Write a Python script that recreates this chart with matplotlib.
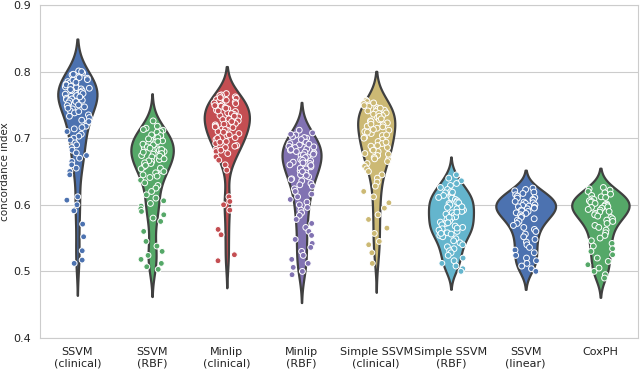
import numpy as np
import pandas as pd
import matplotlib
matplotlib.use("Agg")
import matplotlib.pyplot as plt
import seaborn as sns

labels = ["SSVM\n(clinical)", "SSVM\n(RBF)", "Minlip\n(clinical)", "Minlip\n(RBF)",
          "Simple SSVM\n(clinical)", "Simple SSVM\n(RBF)", "SSVM\n(linear)", "CoxPH"]

ssvm_clinical = [0.801, 0.798, 0.795, 0.792, 0.790, 0.788, 0.785, 0.783, 0.781, 0.779,
                 0.777, 0.776, 0.774, 0.772, 0.770, 0.768, 0.766, 0.765, 0.763, 0.761,
                 0.759, 0.757, 0.755, 0.752, 0.750, 0.747, 0.744, 0.741, 0.738, 0.735,
                 0.731, 0.727, 0.723, 0.718, 0.714, 0.710, 0.706, 0.703, 0.700, 0.697,
                 0.693, 0.690, 0.686, 0.682, 0.678, 0.674, 0.670, 0.665, 0.660, 0.655,
                 0.650, 0.645, 0.612, 0.607, 0.600, 0.591, 0.571, 0.552, 0.531, 0.517, 0.512,
                 0.800, 0.796, 0.791, 0.787, 0.784, 0.780, 0.778, 0.775, 0.773, 0.771,
                 0.769, 0.767, 0.764, 0.762, 0.760, 0.758, 0.756, 0.753, 0.749, 0.745,
                 0.740, 0.733, 0.725, 0.716]
ssvm_rbf = [0.726, 0.718, 0.715, 0.712, 0.710, 0.707, 0.705, 0.702, 0.700, 0.698,
            0.696, 0.694, 0.692, 0.690, 0.688, 0.686, 0.684, 0.682, 0.680, 0.678,
            0.676, 0.674, 0.672, 0.670, 0.668, 0.665, 0.662, 0.660, 0.657, 0.654,
            0.651, 0.648, 0.645, 0.641, 0.637, 0.633, 0.629, 0.625, 0.620, 0.615,
            0.610, 0.606, 0.602, 0.598, 0.594, 0.590, 0.585, 0.580, 0.575, 0.560,
            0.545, 0.538, 0.530, 0.524, 0.518, 0.512, 0.507, 0.503,
            0.713, 0.709, 0.704, 0.701, 0.699, 0.695, 0.691, 0.687, 0.685, 0.683,
            0.679, 0.677, 0.673, 0.669, 0.666, 0.663, 0.659, 0.655, 0.650, 0.643]
minlip_clinical = [0.767, 0.765, 0.762, 0.760, 0.758, 0.756, 0.754, 0.752, 0.750, 0.748,
                   0.746, 0.744, 0.742, 0.740, 0.738, 0.736, 0.734, 0.732, 0.730, 0.728,
                   0.726, 0.724, 0.722, 0.720, 0.718, 0.716, 0.714, 0.712, 0.710, 0.707,
                   0.704, 0.701, 0.698, 0.695, 0.692, 0.689, 0.686, 0.683, 0.680, 0.677,
                   0.672, 0.667, 0.660, 0.652, 0.612, 0.605, 0.600, 0.592, 0.563, 0.555,
                   0.525, 0.516,
                   0.764, 0.761, 0.757, 0.753, 0.749, 0.745, 0.741, 0.737, 0.733, 0.729,
                   0.725, 0.721, 0.717, 0.713, 0.709, 0.705, 0.700, 0.694, 0.688, 0.682]
minlip_rbf = [0.712, 0.708, 0.705, 0.702, 0.700, 0.697, 0.695, 0.692, 0.690, 0.688,
              0.686, 0.684, 0.682, 0.680, 0.678, 0.676, 0.674, 0.672, 0.670, 0.668,
              0.666, 0.664, 0.662, 0.660, 0.657, 0.654, 0.651, 0.648, 0.645, 0.642,
              0.639, 0.636, 0.632, 0.628, 0.624, 0.620, 0.616, 0.612, 0.608, 0.604,
              0.600, 0.596, 0.592, 0.588, 0.584, 0.578, 0.572, 0.566, 0.560, 0.554,
              0.548, 0.542, 0.536, 0.530, 0.524, 0.518, 0.512, 0.506, 0.500, 0.495,
              0.706, 0.701, 0.698, 0.694, 0.691, 0.687, 0.683, 0.679, 0.675, 0.671,
              0.667, 0.663, 0.659, 0.655, 0.650, 0.644, 0.638, 0.630]
simple_clinical = [0.757, 0.755, 0.752, 0.750, 0.748, 0.746, 0.744, 0.742, 0.740, 0.738,
                   0.736, 0.734, 0.731, 0.728, 0.726, 0.723, 0.720, 0.718, 0.715, 0.712,
                   0.710, 0.707, 0.704, 0.701, 0.698, 0.695, 0.692, 0.689, 0.686, 0.683,
                   0.680, 0.677, 0.674, 0.671, 0.668, 0.665, 0.662, 0.658, 0.654, 0.650,
                   0.645, 0.640, 0.634, 0.628, 0.620, 0.612, 0.603, 0.595, 0.585, 0.578,
                   0.565, 0.557, 0.545, 0.540, 0.528, 0.512,
                   0.753, 0.749, 0.745, 0.741, 0.737, 0.733, 0.729, 0.725, 0.721, 0.717,
                   0.713, 0.709, 0.705, 0.700, 0.694, 0.688, 0.682, 0.676, 0.669]
simple_rbf = [0.645, 0.640, 0.636, 0.632, 0.629, 0.626, 0.623, 0.620, 0.618, 0.616,
              0.614, 0.612, 0.610, 0.608, 0.606, 0.604, 0.602, 0.600, 0.598, 0.596,
              0.594, 0.592, 0.590, 0.588, 0.586, 0.584, 0.582, 0.580, 0.578, 0.576,
              0.574, 0.572, 0.570, 0.568, 0.566, 0.564, 0.562, 0.560, 0.558, 0.556,
              0.554, 0.552, 0.549, 0.546, 0.543, 0.540, 0.537, 0.534, 0.531, 0.528,
              0.524, 0.520, 0.516, 0.512, 0.508, 0.504, 0.500,
              0.619, 0.611, 0.603, 0.597, 0.589, 0.581, 0.573, 0.565, 0.557]
ssvm_linear = [0.625, 0.623, 0.621, 0.619, 0.617, 0.615, 0.613, 0.611, 0.610, 0.608,
               0.607, 0.605, 0.604, 0.603, 0.602, 0.600, 0.599, 0.598, 0.597, 0.596,
               0.595, 0.594, 0.592, 0.591, 0.590, 0.588, 0.587, 0.585, 0.583, 0.581,
               0.579, 0.577, 0.575, 0.572, 0.569, 0.566, 0.563, 0.560, 0.556, 0.552,
               0.548, 0.544, 0.540, 0.536, 0.532, 0.528, 0.524, 0.520, 0.516, 0.512,
               0.508, 0.504, 0.500]
coxph = [0.626, 0.624, 0.622, 0.620, 0.618, 0.616, 0.614, 0.612, 0.611, 0.609,
         0.608, 0.606, 0.605, 0.604, 0.602, 0.601, 0.600, 0.599, 0.598, 0.597,
         0.596, 0.595, 0.593, 0.592, 0.590, 0.589, 0.587, 0.585, 0.583, 0.581,
         0.579, 0.577, 0.575, 0.572, 0.569, 0.566, 0.562, 0.558, 0.554, 0.550,
         0.546, 0.542, 0.538, 0.534, 0.530, 0.525, 0.520, 0.515, 0.510, 0.505,
         0.500, 0.495, 0.490]

series = [ssvm_clinical, ssvm_rbf, minlip_clinical, minlip_rbf,
          simple_clinical, simple_rbf, ssvm_linear, coxph]
colors = ["#4C72B0", "#55A868", "#C44E52", "#8172B2", "#CCB974", "#64B5CD",
          "#4C72B0", "#55A868"]

rows = []
for lab, vals in zip(labels, series):
    for v in vals:
        rows.append((lab, v))
df = pd.DataFrame(rows, columns=["method", "cindex"])

sns.set_style("whitegrid")
plt.rcParams['font.family'] = ['DejaVu Sans']

fig = plt.figure(figsize=(6.4, 3.71), dpi=100)
ax = fig.add_axes([0.0625, 0.089, 0.934, 0.8975])

sns.violinplot(data=df, x="method", y="cindex", hue="method", order=labels,
               palette=colors, saturation=1, inner=None, linewidth=1.6,
               linecolor="#404040", common_norm=True, bw_adjust=0.85,
               ax=ax, legend=False)
np.random.seed(3)
sns.stripplot(data=df, x="method", y="cindex", hue="method", order=labels,
              palette=colors, jitter=0.17, size=4.2, edgecolor="white",
              linewidth=0.7, ax=ax, legend=False)

ax.set_ylim(0.4, 0.9)
ax.set_yticks([0.4, 0.5, 0.6, 0.7, 0.8, 0.9])
ax.set_xlabel("")
ax.set_ylabel("concordance index", fontsize=7.5, labelpad=2)
ax.tick_params(labelsize=8, colors="#222222", pad=3)
ax.grid(axis="x", visible=False)
for s in ax.spines.values():
    s.set_color("#cccccc")

fig.savefig("out.png", dpi=100)
